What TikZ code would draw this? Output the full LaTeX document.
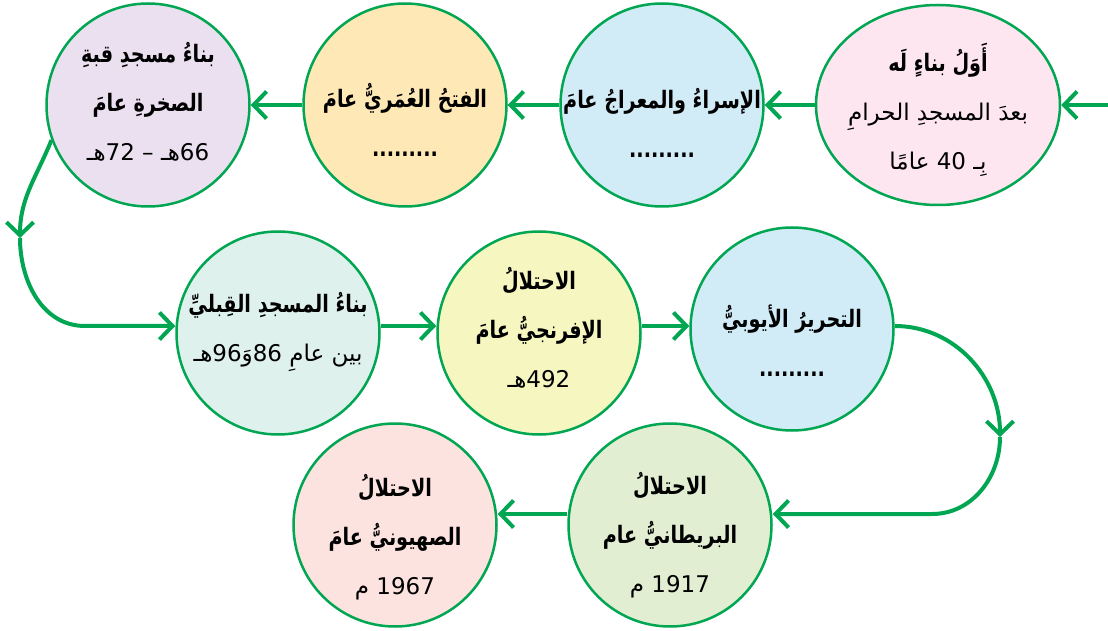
\documentclass[tikz,border=0pt]{standalone}
\usepackage{fontspec}
\newfontfamily\arabicfont[Script=Arabic, FakeStretch=0.8]{DejaVu Sans}
\newfontfamily\arabicplain[Script=Arabic]{DejaVu Sans}
\TeXXeTstate=1
\usetikzlibrary{shapes.geometric, arrows.meta, positioning, calc}

\definecolor{linegreen}{RGB}{0,166,81}
\definecolor{pinkfill}{RGB}{253,230,240}
\definecolor{bluefill}{RGB}{209,235,247}
\definecolor{orangefill}{RGB}{254,232,182}
\definecolor{lilacfill}{RGB}{234,224,239}
\definecolor{mintfill}{RGB}{222,241,236}
\definecolor{lemonfill}{RGB}{246,246,192}
\definecolor{sagefill}{RGB}{225,238,210}
\definecolor{salmonfill}{RGB}{252,227,224}

\newcommand{\evtitle}[1]{{\bfseries\beginR #1\endR}}
\newcommand{\evline}[1]{{\arabicplain\fontsize{23}{49}\selectfont\beginR #1\endR}}

\tikzset{
  event/.style={circle, draw=linegreen, line width=2.5pt, minimum size=203pt, inner sep=0pt},
  eventtxt/.style={align=center, inner sep=0pt, font=\arabicfont\fontsize{24}{49}\selectfont},
  flow/.style={draw=linegreen, line width=4pt, -{Straight Barb[length=13pt, width=27pt]}},
}

\begin{document}
\begin{tikzpicture}[x=1pt, y=1pt]
  \useasboundingbox (0,0) rectangle (1108,630);

  % first row
  \node[event, ellipse, minimum width=244pt, minimum height=200pt, fill=pinkfill] (c1) at (938,525) {};
  \node[event, fill=bluefill] (c2) at (662,525) {};
  \node[event, fill=orangefill] (c3) at (405,525) {};
  \node[event, fill=lilacfill] (c4) at (148,525) {};

  % second row
  \node[event, fill=mintfill] (c5) at (278,297) {};
  \node[event, fill=lemonfill] (c6) at (539,297) {};
  \node[event, fill=bluefill] (c7) at (792,301) {};

  % third row
  \node[event, fill=sagefill] (c8) at (670,105) {};
  \node[event, fill=salmonfill] (c9) at (395,105) {};

  % texts
  \node[eventtxt] (t1) at ([yshift=-5pt]c1.center) {\evtitle{أَوَلُ بناءٍ لَه}\\ \evline{بعدَ المسجدِ الحرامِ}\\ \evline{بِـ 40 عامًا}};
  \node[eventtxt] (t2) at ([yshift=-18pt]c2.center) {\evtitle{الإسراءُ والمعراجُ عامَ}\\ \textbf{.........}};
  \node[eventtxt] (t3) at ([yshift=-15pt]c3.center) {\evtitle{الفتحُ العُمَريُّ عامَ}\\ \textbf{.........}};
  \node[eventtxt] (t4) at ([yshift=3pt]c4.center) {\evtitle{بناءُ مسجدِ قبةِ}\\ \evtitle{الصخرةِ عامَ}\\ \evline{66هـ – 72هـ}};
  \node[eventtxt] (t5) at ([yshift=1pt]c5.center) {\evtitle{بناءُ المسجدِ القِبليِّ}\\ \evline{بين عامِ 86وَ96هـ}};
  \node[eventtxt] (t6) at ([yshift=5pt]c6.center) {\evtitle{الاحتلالُ}\\ \evtitle{الإفرنجيُّ عامَ}\\ \evline{492هـ}};
  \node[eventtxt] (t7) at ([yshift=-12pt]c7.center) {\evtitle{التحريرُ الأيوبيُّ}\\ \textbf{.........}};
  \node[eventtxt] (t8) at ([yshift=-10pt]c8.center) {\evtitle{الاحتلالُ}\\ \evtitle{البريطانيُّ عام}\\ \evline{1917 م}};
  \node[eventtxt] (t9) at ([yshift=-12pt]c9.center) {\evtitle{الاحتلالُ}\\ \evtitle{الصهيونيُّ عامَ}\\ \evline{1967 م}};

  % connectors
  \coordinate (entry) at (1108,525);
  \coordinate (midrow) at (0,304);
  \coordinate (lowrow) at (0,116);
  \coordinate (bendL) at (20,392);
  \coordinate (turnL) at (85,304);
  \coordinate (bendR) at (1000,193);
  \coordinate (turnR) at (932,116);

  \draw[flow] (entry) -- (c1.east);
  \draw[flow] (c1.west) -- (c2.east);
  \draw[flow] (c2.west) -- (c3.east);
  \draw[flow] (c3.west) -- (c4.east);
  \draw[flow] (c4.200) to[out=248, in=90] (bendL);
  \draw[flow] (bendL) to[out=270, in=180] (turnL) -- (c5.west |- midrow);
  \draw[flow] (c5.east |- midrow) -- (c6.west |- midrow);
  \draw[flow] (c6.east |- midrow) -- (c7.west |- midrow);
  \draw[flow] (c7.east |- midrow) to[out=0, in=90] (bendR);
  \draw[flow] (bendR) to[out=270, in=0] (turnR) -- (c8.east |- lowrow);
  \draw[flow] (c8.west |- lowrow) -- (c9.east |- lowrow);
\end{tikzpicture}
\end{document}
